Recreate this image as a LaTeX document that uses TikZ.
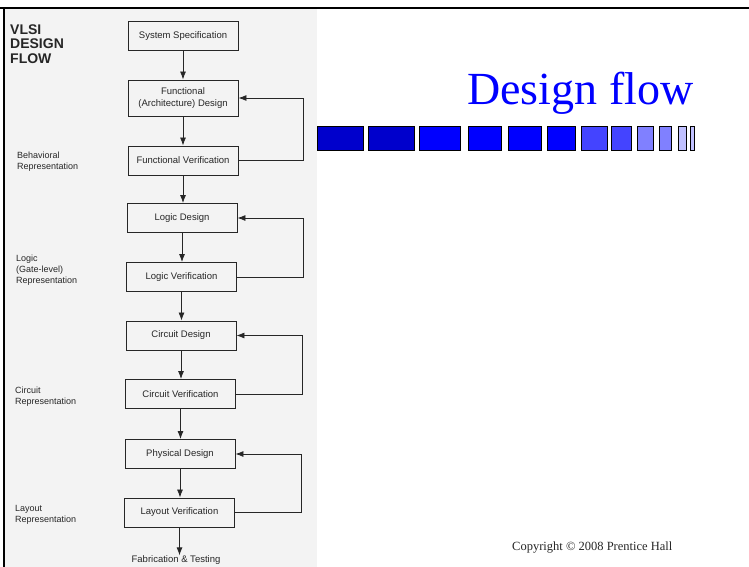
\documentclass[tikz,border=0pt]{standalone}
\usepackage{fontspec}
\setmainfont{Liberation Serif}
\newfontfamily\scanfont{Liberation Sans}
\usetikzlibrary{arrows.meta}
\definecolor{ink}{HTML}{262626}
\definecolor{scanbg}{HTML}{F3F3F3}
\definecolor{titleblue}{HTML}{0000FF}
\definecolor{sqA}{HTML}{0000CC}
\definecolor{sqB}{HTML}{0000FF}
\definecolor{sqC}{HTML}{4444FF}
\definecolor{sqD}{HTML}{8080FF}
\definecolor{sqE}{HTML}{C0C0FF}
\begin{document}
\begin{tikzpicture}[x=1pt,y=-1pt,
  flowbox/.style={draw=ink, line width=0.9pt, fill=scanbg, minimum width=110pt, minimum height=29pt,
    inner sep=1pt, font=\scanfont\fontsize{9.5}{11.5}\selectfont, text=ink, align=center},
  lbl/.style={anchor=west, align=left, inner sep=0pt, font=\scanfont\fontsize{9}{11}\selectfont, text=ink},
  flowarrow/.style={draw=ink, line width=0.8pt, -{Latex[length=8pt,width=6pt]}},
  sqbox/.style={draw=black, line width=0.8pt}
]
\useasboundingbox (0,0) rectangle (749,567);
\clip (0,0) rectangle (749,567);
\fill[white] (0,0) rectangle (749,567);
% scanned area
\fill[scanbg] (4,8) rectangle (317,567);
% slide border
\draw[line width=2.4pt] (0,8) -- (749,8);
\draw[line width=2.4pt] (4,8) -- (4,567);

% flow boxes
\node[flowbox] (spec) at (183,36) {System Specification};
\node[flowbox, minimum height=36pt] (fdes) at (183,98) {Functional\\(Architecture) Design};
\node[flowbox] (fver) at (183,160.5) {Functional Verification};
\node[flowbox] (ldes) at (182,218) {Logic Design};
\node[flowbox] (lver) at (181.5,277) {Logic Verification};
\node[flowbox] (cdes) at (181,335.5) {Circuit Design};
\node[flowbox] (cver) at (180.5,394) {Circuit Verification};
\node[flowbox] (pdes) at (180,454) {Physical Design};
\node[flowbox] (lyver) at (179.5,512.5) {Layout Verification};
\node[inner sep=0.5pt, font=\scanfont\fontsize{9.5}{11.5}\selectfont, text=ink] (fab) at (176,560.5) {Fabrication \& Testing};

% down arrows
\draw[flowarrow] (spec.south) -- (spec.south |- fdes.north);
\draw[flowarrow] (fdes.south) -- (fdes.south |- fver.north);
\draw[flowarrow] (fver.south) -- (fver.south |- ldes.north);
\draw[flowarrow] (ldes.south) -- (ldes.south |- lver.north);
\draw[flowarrow] (lver.south) -- (lver.south |- cdes.north);
\draw[flowarrow] (cdes.south) -- (cdes.south |- cver.north);
\draw[flowarrow] (cver.south) -- (cver.south |- pdes.north);
\draw[flowarrow] (pdes.south) -- (pdes.south |- lyver.north);
\draw[flowarrow] (lyver.south) -- (lyver.south |- fab.north);

% feedback loops
\coordinate (r1) at (303,160.5);
\coordinate (r2) at (303,277);
\coordinate (r3) at (302,394);
\coordinate (r4) at (301,512.5);
\draw[flowarrow] (fver.east) -- (r1) |- (fdes.east);
\draw[flowarrow] (lver.east) -- (r2) |- (ldes.east);
\draw[flowarrow] (cver.east) -- (r3) |- (cdes.east);
\draw[flowarrow] (lyver.east) -- (r4) |- (pdes.east);

% left labels
\node[lbl, font=\scanfont\bfseries\fontsize{14}{14.5}\selectfont] (vlsi) at (10,44) {VLSI\\DESIGN\\FLOW};
\node[lbl] (behav) at (17,162) {Behavioral\\Representation};
\node[lbl] (logic) at (16,270.5) {Logic\\(Gate-level)\\Representation};
\node[lbl] (circ) at (15,397) {Circuit\\Representation};
\node[lbl] (layout) at (15,515) {Layout\\Representation};

% title
\node[anchor=base west, inner sep=0pt, text=titleblue, font=\fontsize{46}{46}\selectfont] (title) at (467,105) {Design flow};

% square bar
\foreach \xa/\xb/\col in {317/363/sqA, 368/414/sqA, 419/460/sqB, 468/501/sqB, 508/541/sqB, 547/575/sqB,
    581/607/sqC, 611/631/sqC, 637/653/sqD, 659/671/sqD, 678/686/sqE, 690/694/sqE}
  \filldraw[sqbox, fill=\col] (\xa,126) rectangle (\xb,150);

% copyright
\node[anchor=base west, inner sep=0pt, text=black!85, font=\fontsize{12.5}{14}\selectfont] (copy) at (512,550) {Copyright © 2008 Prentice Hall};
\end{tikzpicture}
\end{document}
